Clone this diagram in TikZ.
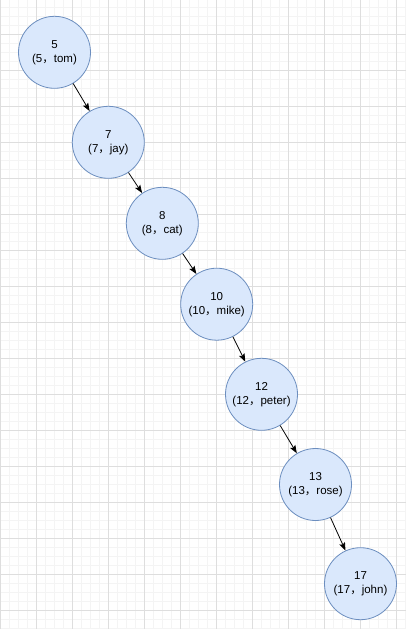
\documentclass[tikz,border=0pt]{standalone}
\usepackage{fontspec}
\setmainfont{Liberation Sans}
\newfontfamily\cjkfont{Noto Sans CJK SC}
\usetikzlibrary{arrows.meta}
\newcommand{\fwc}{{\cjkfont ，}}
\definecolor{gridminor}{HTML}{F4F4F4}
\definecolor{gridmajor}{HTML}{DEDEDE}
\definecolor{nodefill}{HTML}{DAE8FC}
\definecolor{nodeline}{HTML}{6C8EBF}
\tikzset{
  minorline/.style={draw=gridminor, line width=0.8pt},
  majorline/.style={draw=gridmajor, line width=0.8pt},
  keynode/.style={circle, draw=nodeline, fill=nodefill, line width=0.8pt,
    minimum size=72pt, inner sep=0pt, align=center,
    font=\fontsize{11.5}{14}\selectfont},
  link/.style={draw=black, line width=0.8pt,
    -{Stealth[length=8pt, width=6pt, inset=1.5pt]}}
}
\begin{document}
\begin{tikzpicture}[x=1pt, y=-1pt]
  \useasboundingbox (0,0) rectangle (406,629);
  \fill[white] (0,0) rectangle (406,629);
  % background grid: minor lines every 9, major every 36
  \foreach \i in {0,...,45} {
    \draw[minorline] (\i*9,0) -- (\i*9,629);
  }
  \foreach \j in {-3,...,66} {
    \draw[minorline] (0,34.3+\j*9) -- (406,34.3+\j*9);
  }
  \foreach \i in {0,...,11} {
    \draw[majorline] (\i*36,0) -- (\i*36,629);
  }
  \foreach \j in {0,...,16} {
    \draw[majorline] (0,34.3+\j*36) -- (406,34.3+\j*36);
  }
  % tree nodes
  \node[keynode] (n5)  at (54.5,52.3)  {5\\(5\fwc tom)};
  \node[keynode] (n7)  at (108.3,142.3) {7\\(7\fwc jay)};
  \node[keynode] (n8)  at (162.3,223.3) {8\\(8\fwc cat)};
  \node[keynode] (n10) at (216.7,304.2) {10\\(10\fwc mike)};
  \node[keynode] (n12) at (261.5,394.3) {12\\(12\fwc peter)};
  \node[keynode] (n13) at (315.5,484.5) {13\\(13\fwc rose)};
  \node[keynode] (n17) at (360.5,583.7) {17\\(17\fwc john)};
  % links
  \draw[link] (n5) -- (n7);
  \draw[link] (n7) -- (n8);
  \draw[link] (n8) -- (n10);
  \draw[link] (n10) -- (n12);
  \draw[link] (n12) -- (n13);
  \draw[link] (n13) -- (n17);
\end{tikzpicture}
\end{document}
